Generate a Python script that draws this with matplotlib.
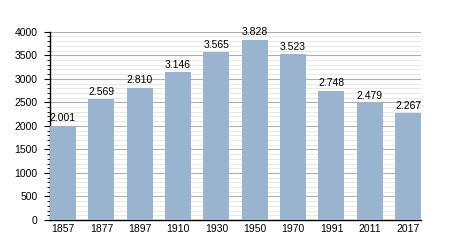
import matplotlib
matplotlib.use("Agg")
import matplotlib.pyplot as plt
from matplotlib.ticker import MultipleLocator

plt.rcParams["font.family"] = ["Liberation Sans", "DejaVu Sans"]

years = ["1857", "1877", "1897", "1910", "1930", "1950", "1970", "1991", "2011", "2017"]
population = [2001, 2569, 2810, 3146, 3565, 3828, 3523, 2748, 2479, 2267]
labels = ["2.001", "2.569", "2.810", "3.146", "3.565", "3.828", "3.523", "2.748", "2.479", "2.267"]

fig = plt.figure(figsize=(4.5, 2.5), dpi=100)
ax = fig.add_axes([0.111, 0.12, 0.825, 0.753])

width = 0.68
x = range(len(years))
ax.bar(x, population, width=width, color="#9ab4d0", zorder=3)
for xi, v, lab in zip(x, population, labels):
    ax.text(xi, v + 50, lab, ha="center", va="bottom", fontsize=7.5, zorder=4)

ax.set_xlim(-width / 2, len(years) - 1 + width / 2)
ax.set_ylim(0, 4000)
ax.set_xticks(list(x))
ax.set_xticklabels(years)
ax.yaxis.set_major_locator(MultipleLocator(500))
ax.yaxis.set_minor_locator(MultipleLocator(100))
ax.grid(axis="y", which="major", color="#b0b0b0", linewidth=0.8, zorder=1)
ax.grid(axis="y", which="minor", color="#e4e4e4", linewidth=0.6, zorder=1)

for s in ("top", "right"):
    ax.spines[s].set_visible(False)
ax.spines["left"].set_linewidth(1.0)
ax.spines["bottom"].set_linewidth(1.0)
ax.tick_params(axis="x", length=0, labelsize=7.5, pad=3)
ax.tick_params(axis="y", which="major", length=4, labelsize=7.5, pad=5)
ax.tick_params(axis="y", which="minor", length=2.5)

fig.savefig("out.png", dpi=100)
